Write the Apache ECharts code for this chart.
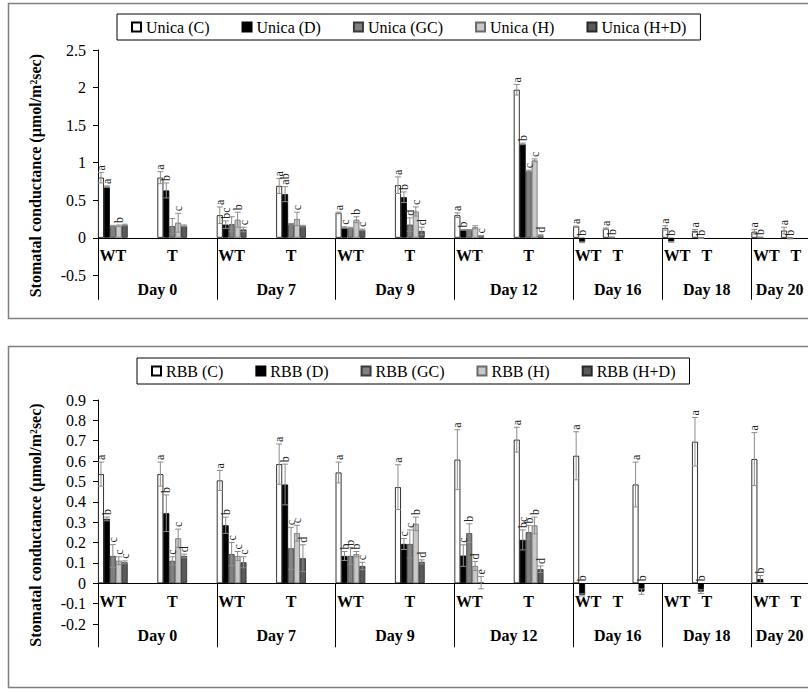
<!DOCTYPE html>
<html><head><meta charset="utf-8">
<script src="https://cdn.jsdelivr.net/npm/echarts@6/dist/echarts.min.js"></script>
<style>html,body{margin:0;padding:0;background:#fff}#c{width:808px;height:693px}</style>
</head><body><div id="c"></div>
<script>
// ---- categories (leaf slots of the two-level axis) ----
const categories = ['WT','','T','', 'WT','','T','', 'WT','','T','', 'WT','','T','', 'WT','T','', 'WT','T','', 'WT','T',''];
const dayLabels = ['Day 0','Day 7','Day 9','Day 12','Day 16','Day 18','Day 20'];
const daySlots = [4,4,4,4,3,3,3];

// ---- Unica (top panel) ----
const unicaNames = ['Unica (C)','Unica (D)','Unica (GC)','Unica (H)','Unica (H+D)'];
const unicaSlot = [0,2,4,6,8,10,12,14,16,17,19,20,22,23];
const unicaC  = [0.80,0.80,0.30,0.69,0.33,0.70,0.30,1.97,0.15,0.12,0.13,0.09,0.08,0.095];
const unicaD  = [0.68,0.63,0.175,0.58,0.135,0.54,0.105,1.25,-0.06,0.005,-0.055,-0.005,0.005,-0.01];
const unicaGC = [0.155,0.155,0.18,0.18,0.13,0.175,0.105,0.89];
const unicaH  = [0.16,0.20,0.24,0.25,0.24,0.35,0.14,1.03];
const unicaHD = [0.17,0.16,0.11,0.155,0.105,0.09,0.025,0.03];
const unicaErrC  = [0.07,0.08,0.11,0.10,0.01,0.11,0.03,0.07,0.005,0.01,0.03,0.02,0.03,0.045];
const unicaErrD  = [0.01,0.10,0.05,0.10,0.01,0.07,0.005,0.01,0.005,0.005,0.005,0.005,0.005,0.005];
const unicaErrGC = [0.01,0.10,0.10,0.01,0.01,0.09,0.005,0.01];
const unicaErrH  = [0.01,0.125,0.10,0.09,0.04,0.06,0.02,0.02];
const unicaErrHD = [0.01,0.01,0.03,0.01,0.01,0.05,0.005,0.01];
const unicaLetC  = ['a','a','a','a','a','a','a','a','a','a','a','a','a','a'];
const unicaLetD  = ['a','b','bc','ab','c','b','b','b','b','b','b','b','b','b'];
const unicaLetGC = ['','','','','','d','','c'];
const unicaLetH  = ['b','c','b','c','b','c','','c'];
const unicaLetHD = ['','','c','','c','d','c','d'];

// ---- RBB (bottom panel) ----
const rbbNames = ['RBB (C)','RBB (D)','RBB (GC)','RBB (H)','RBB (H+D)'];
const rbbSlot = [0,2,4,6,8,10,12,14,16,18,20,22];
const rbbC  = [0.536,0.536,0.505,0.585,0.544,0.472,0.607,0.705,0.626,0.485,0.695,0.61];
const rbbD  = [0.316,0.344,0.285,0.485,0.134,0.193,0.136,0.213,-0.057,-0.041,-0.041,0.021];
const rbbGC = [0.134,0.11,0.143,0.172,0.134,0.193,0.246,0.251];
const rbbH  = [0.111,0.221,0.134,0.246,0.143,0.292,0.085,0.284];
const rbbHD = [0.103,0.134,0.103,0.123,0.085,0.105,0.003,0.069];
const rbbErrC  = [0.059,0.059,0.049,0.099,0.051,0.11,0.147,0.061,0.118,0.11,0.119,0.13];
const rbbErrD  = [0.009,0.09,0.04,0.10,0.022,0.027,0.053,0.049,0.005,0.013,0.009,0.017];
const rbbErrGC = [0.056,0.02,0.057,0.103,0.041,0.069,0.046,0.033];
const rbbErrH  = [0.019,0.045,0.022,0.039,0.013,0.033,0.022,0.041];
const rbbErrHD = [0.007,0.009,0.027,0.066,0.018,0.01,0.03,0.016];
const rbbLetC  = ['a','a','a','a','a','a','a','a','a','a','a','a'];
const rbbLetD  = ['b','b','b','b','b','c','c','bc','b','b','b','b'];
const rbbLetGC = ['c','c','c','c','b','c','b','b'];
const rbbLetH  = ['c','c','c','c','b','b','d','b'];
const rbbLetHD = ['c','d','c','d','c','d','e','d'];

// ---- styling ----
const SERIF = '"Liberation Serif","Times New Roman",serif';
const fills = ['#ffffff','#000000','#808080','#c8c8c8','#5a5a5a'];
const borders = ['#000000','#000000','#3a3a3a','#6a6a6a','#2a2a2a'];

const nSlots = categories.length;
const dayBounds = [0];
daySlots.forEach(n => dayBounds.push(dayBounds[dayBounds.length-1] + n));
const dayCenters = daySlots.map((n,i) => dayBounds[i] + n/2);
dayCenters[dayCenters.length-1] = 22.95; // last label kept inside the visible chart area

function toSlots(slots, vals){
  const arr = new Array(nSlots).fill(null);
  vals.forEach((v,i) => { arr[slots[i]] = v; });
  return arr;
}

function buildPanel(gi, names, slots, vals, errs, lets){
  const series = [];
  const items = [];
  names.forEach((nm, s) => {
    series.push({
      type:'bar', name:nm, xAxisIndex: gi*2, yAxisIndex: gi,
      data: toSlots(slots, vals[s]),
      barGap:'0%', barCategoryGap:'0%',
      itemStyle:{color: fills[s], borderColor: borders[s], borderWidth: 0.8},
      emphasis:{disabled:true}, animation:false
    });
    vals[s].forEach((v,i) => {
      items.push({slot: slots[i], s: s, v: v, e: errs[s][i] || 0, t: lets[s][i] || ''});
    });
  });
  series.push({
    type:'custom', xAxisIndex: gi*2, yAxisIndex: gi, silent:true, animation:false, z: 5,
    color:'#222', itemStyle:{color:'#222'},
    data: items.map(it => [it.slot, it.v]),
    encode:{x:0, y:1},
    renderItem: function(params, api){
      const it = items[params.dataIndex];
      const bw = api.size([1,0])[0] / 5;
      const cx = api.coord([it.slot, 0])[0] + (it.s - 2) * bw;
      const y0 = api.coord([it.slot, 0])[1];
      const yT = api.coord([it.slot, it.v + it.e])[1];
      const yB = api.coord([it.slot, it.v - it.e])[1];
      const hw = bw/2;
      const st = {stroke:'#8c8c8c', lineWidth:1, fill:null};
      const ch = [];
      if (it.e > 0) {
        ch.push({type:'line', shape:{x1:cx, y1:yT, x2:cx, y2:yB}, style:st});
        ch.push({type:'line', shape:{x1:cx-hw, y1:yT, x2:cx+hw, y2:yT}, style:st});
        ch.push({type:'line', shape:{x1:cx-hw, y1:yB, x2:cx+hw, y2:yB}, style:st});
      }
      if (it.t) {
        const yl = Math.min(yT, y0) - 2;
        ch.push({type:'text', x: cx, y: yl, rotation: Math.PI/2,
          style:{text: it.t, align:'left', verticalAlign:'middle', fill:'#222',
                 fontSize: 12, fontFamily: SERIF}});
      }
      return {type:'group', children: ch};
    }
  });
  return series;
}

const grids = [
  {left:98, top:50, width:742.5, height:225.3},
  {left:98, top:400, width:742.5, height:224}
];
const yCfg = [
  {min:-0.5, max:2.5, interval:0.5},
  {min:-0.2, max:0.9, interval:0.1}
];
const tickLen = [62, 64];

const xAxes = [], yAxes = [];
grids.forEach((g, gi) => {
  // lift the category axes from the grid bottom up to the y = 0 line
  const zeroLift = -g.height * (0 - yCfg[gi].min) / (yCfg[gi].max - yCfg[gi].min);
  xAxes.push({
    type:'category', gridIndex: gi, data: categories, position:'bottom', offset: zeroLift,
    axisLine:{onZero:false, lineStyle:{color:'#000', width:1}},
    axisTick:{show:false},
    axisLabel:{interval:0, margin:10, color:'#000', fontSize:16, fontWeight:'bold', fontFamily:SERIF},
    splitLine:{show:false}
  });
  xAxes.push({
    type:'value', gridIndex: gi, min:0, max:nSlots, position:'bottom', offset: zeroLift,
    axisLine:{show:false, onZero:false},
    axisTick:{show:true, customValues: dayBounds, length: tickLen[gi], inside:false, lineStyle:{color:'#000', width:1}},
    axisLabel:{show:true, customValues: dayCenters, margin:44, color:'#000', fontSize:16, fontWeight:'bold', fontFamily:SERIF,
      formatter: v => { const k = dayCenters.findIndex(c => Math.abs(c - v) < 1e-6); return k >= 0 ? dayLabels[k] : ''; }},
    splitLine:{show:false}
  });
  yAxes.push(Object.assign({
    type:'value', gridIndex: gi,
    name:'Stomatal conductance (µmol/m²sec)', nameLocation:'middle', nameGap:55, nameRotate:90,
    nameTextStyle:{fontSize:16, fontWeight:'bold', fontFamily:SERIF, color:'#000', padding:[0,26,0,0]},
    axisLine:{show:true, onZero:false, lineStyle:{color:'#000', width:1}},
    axisTick:{show:true, length:5, lineStyle:{color:'#000'}},
    axisLabel:{color:'#000', fontSize:16, fontFamily:SERIF, margin:12},
    splitLine:{show:false}
  }, yCfg[gi]));
});

const series = [].concat(
  buildPanel(0, unicaNames, unicaSlot, [unicaC,unicaD,unicaGC,unicaH,unicaHD],
    [unicaErrC,unicaErrD,unicaErrGC,unicaErrH,unicaErrHD], [unicaLetC,unicaLetD,unicaLetGC,unicaLetH,unicaLetHD]),
  buildPanel(1, rbbNames, rbbSlot, [rbbC,rbbD,rbbGC,rbbH,rbbHD],
    [rbbErrC,rbbErrD,rbbErrGC,rbbErrH,rbbErrHD], [rbbLetC,rbbLetD,rbbLetGC,rbbLetH,rbbLetHD])
);

const legendBase = {
  orient:'horizontal', icon:'rect', itemWidth:9, itemHeight:9, itemGap:32,
  borderColor:'#000', borderWidth:1, padding:[5,14], selectedMode:false,
  textStyle:{fontSize:16, fontFamily:SERIF, color:'#000'}
};

const chart = echarts.init(document.getElementById('c'), null, {renderer:'svg'});
chart.setOption({
  animation:false,
  backgroundColor:'#fff',
  graphic:[
    {type:'rect', shape:{x:8.5, y:3.5, width:900, height:315}, style:{fill:'none', stroke:'#808080', lineWidth:1.5}, z:-1},
    {type:'rect', shape:{x:8.5, y:346.5, width:900, height:341}, style:{fill:'none', stroke:'#808080', lineWidth:1.5}, z:-1}
  ],
  legend:[
    Object.assign({}, legendBase, {data: unicaNames, left:117, top:14}),
    Object.assign({}, legendBase, {data: rbbNames, left:137, top:358})
  ],
  grid: grids.map(g => Object.assign({outerBoundsMode:'none', containLabel:false}, g)),
  xAxis: xAxes,
  yAxis: yAxes,
  series: series
});
</script>
</body></html>
